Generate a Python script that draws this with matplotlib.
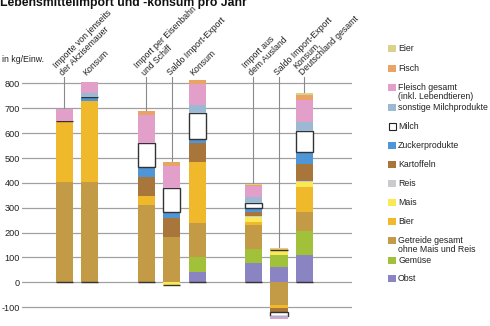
import numpy as np
import matplotlib
matplotlib.use("Agg")
import matplotlib.pyplot as plt
from matplotlib.patches import Rectangle

plt.rcParams['font.family'] = ['Liberation Sans', 'DejaVu Sans']
plt.rcParams['axes.unicode_minus'] = False

# bars, left to right
bar_labels = ["Importe von jenseits\nder Akzisemauer", "Konsum",
              "Import per Eisenbahn\nund Schiff", "Saldo Import-Export", "Konsum",
              "Import aus\ndem Ausland", "Saldo Import-Export",
              "Konsum,\nDeutschland gesamt"]
bar_x = [0, 1, 3.2, 4.2, 5.2, 7.4, 8.4, 9.4]
has_leader = [True, False, True, True, False, True, True, True]

# values in kg per inhabitant, one list per food group (bottom to top)
obst = [3, 3, 0, 0, 40, 76, 63, 111]
gemuese = [0, 0, 0, 0, 63, 58, 47, 97]
getreide = [399, 401, 311, 182, 137, 96, -91, 74]
bier = [247, 325, 37, 0, 242, 14, -11, 100]
mais = [0, 0, 0, -10, 0, 20, 20, 23]
reis = [0, 0, 0, 0, 0, 3, 0, 2]
kartoffeln = [0, 0, 77, 75, 78, 17, -16, 67]
zucker = [0, 18, 38, 27, 15, 16, 0, 51]
milch = [0, 0, 96, 94, 105, 20, -16, 83]
milchprodukte = [0, 14, 0, 0, 33, 24, -7, 38]
fleisch = [47, 43, 114, 90, 85, 43, -6, 89]
fisch = [0, 0, 16, 15, 16, 6, 4, 18]
eier = [0, 3, 0, 0, 0, 4, 5, 9]

series = [
    ("Obst", obst, "#8b84c2"),
    ("Gemüse", gemuese, "#a2c13a"),
    ("Getreide gesamt\nohne Mais und Reis", getreide, "#c39a45"),
    ("Bier", bier, "#f0b92b"),
    ("Mais", mais, "#f9ea55"),
    ("Reis", reis, "#cbcbcf"),
    ("Kartoffeln", kartoffeln, "#a8763a"),
    ("Zuckerprodukte", zucker, "#4e96d6"),
    ("Milch", milch, "white"),
    ("sonstige Milchprodukte", milchprodukte, "#9bb9d2"),
    ("Fleisch gesamt\n(inkl. Lebendtieren)", fleisch, "#e29fc9"),
    ("Fisch", fisch, "#e8a365"),
    ("Eier", eier, "#dad28c"),
]

fig = plt.figure(figsize=(4.9, 3.26), dpi=100)
ax = fig.add_axes([22/490, 0.012, (352-22)/490, 0.755])
ax.set_xlim(-1.66, 11.26)
ax.set_ylim(-160, 830)

pos_base = np.zeros(len(bar_x))
neg_base = np.zeros(len(bar_x))
for name, vals, col in series:
    v = np.array(vals, dtype=float)
    p = np.where(v > 0, v, 0)
    n = np.where(v < 0, v, 0)
    if name == "Milch":
        kw = dict(edgecolor="#333333", linewidth=1.0)
    else:
        kw = dict(edgecolor="none", linewidth=0)
    ax.bar(bar_x, p, 0.67, bottom=pos_base, color=col, zorder=3, **kw)
    ax.bar(bar_x, n, 0.67, bottom=neg_base, color=col, zorder=3, **kw)
    pos_base += p
    neg_base += n

ax.set_yticks(range(-100, 801, 100))
ax.yaxis.grid(True, color="#a0a0a0", linewidth=0.9, zorder=0)
ax.tick_params(axis="y", length=0, pad=1.5, labelsize=6.6, labelcolor="#222222")
ax.set_xticks([])
for s in ax.spines.values():
    s.set_visible(False)

# leader lines and rotated labels
top = 826
for x, lab, lead, h in zip(bar_x, bar_labels, has_leader, pos_base):
    if lead:
        ax.plot([x, x], [top, h], color="#8a8a8a", linewidth=0.8, zorder=2, clip_on=False)
        tx = x
    else:
        tx = x - 0.1
    ax.text(tx, top, lab, rotation=45, rotation_mode="anchor", ha="left", va="bottom",
            fontsize=6.3, color="#222222", linespacing=1.1, clip_on=False)

# overlay in pixel coordinates for title, unit and legend
ov = fig.add_axes([0, 0, 1, 1])
ov.set_xlim(0, 490)
ov.set_ylim(326, 0)
ov.axis("off")
ov.patch.set_alpha(0)

ov.text(0, 6, "Lebensmittelimport und -konsum pro Jahr", fontsize=8.8, fontweight="bold",
        ha="left", va="baseline", color="#111111")
ov.text(2, 60, "in kg/Einw.", fontsize=6.3, ha="left", va="center", color="#222222")

legend_y = {"Eier": 48, "Fisch": 68.5, "Fleisch gesamt\n(inkl. Lebendtieren)": 87,
            "sonstige Milchprodukte": 107.5, "Milch": 126, "Zuckerprodukte": 145,
            "Kartoffeln": 164, "Reis": 183, "Mais": 202, "Bier": 221,
            "Getreide gesamt\nohne Mais und Reis": 240.5, "Gemüse": 260, "Obst": 278}
for name, vals, col in series:
    y = legend_y[name]
    if name == "Milch":
        ov.add_patch(Rectangle((388.5, y - 3.5), 7.5, 7, facecolor="white",
                               edgecolor="#222222", linewidth=0.8))
    else:
        ov.add_patch(Rectangle((388, y - 3.5), 8, 7, facecolor=col, edgecolor="none"))
    ov.text(398, y - 4.2, name, fontsize=6.3, ha="left", va="top", color="#222222",
            linespacing=1.0)

fig.savefig("out.png", dpi=100)
